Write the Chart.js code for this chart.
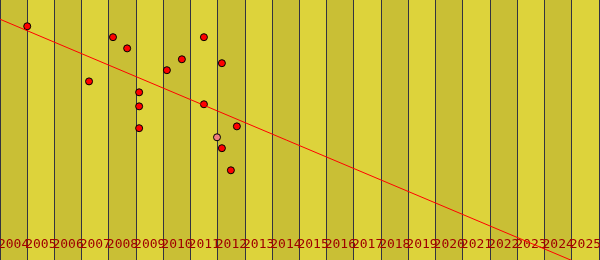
<!DOCTYPE html>
<html>
<head>
<meta charset="utf-8">
<script src="https://cdn.jsdelivr.net/npm/chart.js@4/dist/chart.umd.min.js"></script>
<style>
  html, body { margin: 0; padding: 0; background: #ddd33b; }
  canvas { display: block; }
</style>
</head>
<body>
<canvas id="chart" width="600" height="260"></canvas>
<script>
// tick labels, one band per year
const years = [2004, 2005, 2006, 2007, 2008, 2009, 2010, 2011, 2012, 2013, 2014,
               2015, 2016, 2017, 2018, 2019, 2020, 2021, 2022, 2023, 2024, 2025];

// red points (x = year with fraction, y = value)
const pointX = [2005.00, 2008.15, 2008.67, 2007.27, 2009.11, 2009.11, 2009.11, 2010.13,
                2010.68, 2011.49, 2012.15, 2011.49, 2012.70, 2012.15, 2012.48];
const pointY = [89.9, 85.7, 81.4, 68.7, 64.5, 59.1, 50.7, 73.0,
                77.2, 85.7, 75.7, 59.9, 51.4, 43.0, 34.5];

// the single highlighted (pink) point
const pinkX = [2011.97];
const pinkY = [47.2];

// trend line ends
const trendX = [2004, 2026];
const trendY = [92.6, -4.6];

const darkBand = '#c9bf35';
const lightBand = '#ddd33b';

const zip = (xs, ys) => xs.map((x, i) => ({x: x, y: ys[i]}));

// alternating year columns, painted through the x scale
const bandPlugin = {
    id: 'bands',
    beforeDraw(chart) {
        const ctx = chart.ctx;
        const xs = chart.scales.x;
        ctx.save();
        for (let i = 0; i < years.length; i++) {
            const l = xs.getPixelForValue(years[i]);
            const r = xs.getPixelForValue(years[i] + 1);
            ctx.fillStyle = i % 2 == 0 ? darkBand : lightBand;
            ctx.fillRect(l, 0, r - l, chart.height);
        }
        ctx.restore();
    }
};

new Chart(document.getElementById('chart'), {
    type: 'scatter',
    data: {
        datasets: [
            {
                data: zip(trendX, trendY),
                showLine: true,
                borderColor: '#ff0000',
                borderWidth: 1,
                pointRadius: 0,
                fill: false
            },
            {
                data: zip(pointX, pointY),
                backgroundColor: '#ff0000',
                borderColor: '#000000',
                borderWidth: 1,
                pointRadius: 3.5
            },
            {
                data: zip(pinkX, pinkY),
                backgroundColor: '#f08080',
                borderColor: '#000000',
                borderWidth: 1,
                pointRadius: 3.5
            }
        ]
    },
    options: {
        responsive: false,
        devicePixelRatio: 1,
        animation: false,
        layout: { autoPadding: false, padding: { right: 1 } },
        plugins: { legend: { display: false }, tooltip: { enabled: false } },
        scales: {
            x: {
                type: 'linear',
                min: 2004,
                max: 2026,
                ticks: { display: false, stepSize: 1 },
                grid: { color: '#333340', lineWidth: 1, drawTicks: false },
                border: { display: false }
            },
            // second axis only for the labels, centred in each band and drawn inside
            xl: {
                type: 'linear',
                position: 'bottom',
                min: 2004,
                max: 2026,
                grid: { display: false, drawTicks: false },
                border: { display: false },
                afterBuildTicks: (scale) => {
                    scale.ticks = years.map(y => ({value: y + 0.5}));
                },
                afterFit: (scale) => {
                    scale.paddingLeft = 0;
                    scale.paddingRight = 0;
                },
                ticks: {
                    autoSkip: false,
                    minRotation: 0,
                    maxRotation: 0,
                    padding: -31,
                    color: '#a00000',
                    font: { family: 'DejaVu Sans Mono', size: 13, lineHeight: 31 / 13 },
                    callback: (v, i) => String(years[i])
                }
            },
            y: {
                display: false,
                min: 0,
                max: 100
            }
        }
    },
    plugins: [bandPlugin]
});
</script>
</body>
</html>
